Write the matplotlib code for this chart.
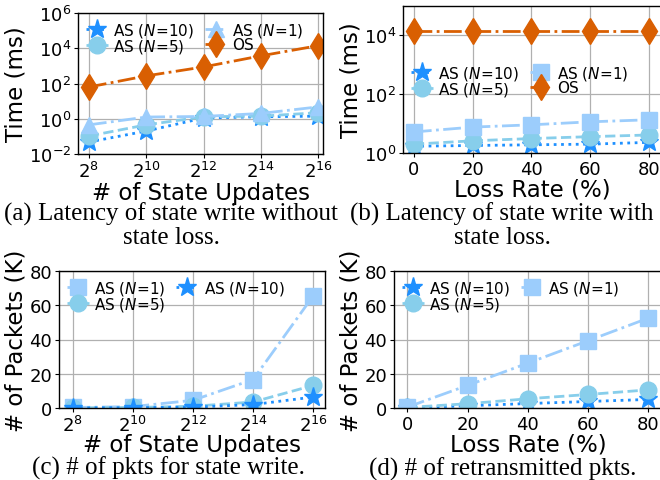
import matplotlib
matplotlib.use("Agg")
import matplotlib.pyplot as plt

plt.rcParams['font.family'] = ['DejaVu Sans']
plt.rcParams['mathtext.fontset'] = 'dejavusans'

# ---- data ----
updates = [2**8, 2**10, 2**12, 2**14, 2**16]
update_labels = [r'$2^{8}$', r'$2^{10}$', r'$2^{12}$', r'$2^{14}$', r'$2^{16}$']
loss = [0, 20, 40, 60, 80]

# (a) latency without state loss (ms)
a_n10 = [0.048, 0.2, 1.1, 1.3, 1.4]
a_n5 = [0.105, 0.45, 1.3, 1.4, 2.2]
a_n1 = [0.45, 1.25, 1.35, 2.0, 4.7]
a_os = [63, 270, 870, 3700, 14000]

# (b) latency with state loss (ms)
b_n10 = [1.7, 1.8, 1.9, 2.0, 2.3]
b_n5 = [2.0, 2.6, 3.1, 3.6, 4.1]
b_n1 = [5.2, 7.6, 9.1, 11.5, 13.5]
b_os = [14000, 14000, 14000, 14000, 14000]

# (c) packets for state write (K)
c_n1 = [0.3, 0.8, 4.5, 16.6, 65.5]
c_n5 = [0.1, 0.3, 1.0, 3.5, 13.2]
c_n10 = [0.05, 0.2, 0.5, 2.0, 6.4]

# (d) retransmitted packets (K)
d_n1 = [0.5, 13.2, 26.2, 39.3, 52.5]
d_n5 = [0.3, 2.5, 5.4, 7.9, 10.6]
d_n10 = [0.1, 1.3, 2.6, 3.8, 5.0]

C10 = '#1e90ff'
C5 = '#87ceeb'
C1 = '#9ccdfc'
COS = '#d95f02'

fig = plt.figure(figsize=(6.6, 4.81), dpi=100)

def px_axes(l, r, t, b):
    W, H = 660, 481
    return fig.add_axes([l / W, 1 - b / H, (r - l) / W, (b - t) / H])

TICK = 13
LAB = 16.5

def style(ax):
    ax.grid(True, color='#b0b0b0', linewidth=0.9)
    ax.set_axisbelow(True)
    for s in ax.spines.values():
        s.set_color('black')
        s.set_linewidth(1.0)
    ax.tick_params(labelsize=TICK, length=3, width=0.8, pad=2)

ms = 12
lw = 2.0
leg_kw = dict(frameon=False, fontsize=11, handlelength=1.45, handletextpad=0.35,
              columnspacing=0.7, labelspacing=-0.1, borderpad=0.3,
              borderaxespad=0.2, ncol=2)

# ---- (a) ----
ax = px_axes(78, 323, 14, 155)
ax.plot(updates, a_n10, ':', color=C10, marker='*', ms=ms + 2, lw=lw, label=r'AS ($N$=10)')
ax.plot(updates, a_n5, '--', color=C5, marker='o', ms=ms, lw=lw, label=r'AS ($N$=5)')
ax.plot(updates, a_n1, '-.', color=C1, marker='^', ms=ms, lw=lw, label=r'AS ($N$=1)')
ax.plot(updates, a_os, '-.', color=COS, marker='d', ms=ms + 1, lw=lw, label='OS')
ax.set_xscale('log', base=2)
ax.set_yscale('log')
ax.set_xlim(2**7.62, 2**16.17)
ax.set_ylim(1e-2, 1e6)
ax.set_xticks(updates)
ax.set_xticklabels(update_labels)
ax.set_yticks([1e-2, 1e0, 1e2, 1e4, 1e6])
ax.minorticks_off()
ax.set_ylabel('Time (ms)', fontsize=LAB, labelpad=1)
ax.set_xlabel('# of State Updates', fontsize=LAB, labelpad=0)
style(ax)
ax.legend(loc='upper left', **leg_kw)

# ---- (b) ----
ax = px_axes(403, 662, 7, 154)
ax.plot(loss, b_n10, ':', color=C10, marker='*', ms=ms + 2, lw=lw, label=r'AS ($N$=10)')
ax.plot(loss, b_n5, '--', color=C5, marker='o', ms=ms, lw=lw, label=r'AS ($N$=5)')
ax.plot(loss, b_n1, '-.', color=C1, marker='s', ms=ms - 1, lw=lw, label=r'AS ($N$=1)')
ax.plot(loss, b_os, '-.', color=COS, marker='d', ms=ms + 1, lw=lw, label='OS')
ax.set_yscale('log')
ax.set_xlim(-3.7, 84.4)
ax.set_ylim(1e0, 1e5)
ax.set_xticks(loss)
ax.set_yticks([1e0, 1e2, 1e4])
ax.minorticks_off()
ax.set_ylabel('Time (ms)', fontsize=LAB, labelpad=1)
ax.set_xlabel('Loss Rate (%)', fontsize=LAB, labelpad=0)
style(ax)
ax.legend(loc='center left', bbox_to_anchor=(0.0, 0.49), **leg_kw)

# ---- (c) ----
ax = px_axes(59, 325, 272, 409)
ax.plot(updates, c_n1, '-.', color=C1, marker='s', ms=ms - 1, lw=lw, label=r'AS ($N$=1)')
ax.plot(updates, c_n5, '--', color=C5, marker='o', ms=ms, lw=lw, label=r'AS ($N$=5)')
ax.plot(updates, c_n10, ':', color=C10, marker='*', ms=ms + 2, lw=lw, label=r'AS ($N$=10)')
ax.set_xscale('log', base=2)
ax.set_xlim(2**7.55, 2**16.39)
ax.set_ylim(0, 80)
ax.set_xticks(updates)
ax.set_xticklabels(update_labels)
ax.set_yticks([0, 20, 40, 60, 80])
ax.minorticks_off()
ax.set_ylabel('# of Packets (K)', fontsize=LAB, labelpad=1)
ax.set_xlabel('# of State Updates', fontsize=LAB, labelpad=-1.5)
style(ax)
ax.legend(loc='upper left', **leg_kw)

# ---- (d) ----
ax = px_axes(394, 662, 272, 409)
ax.plot(loss, d_n10, ':', color=C10, marker='*', ms=ms + 2, lw=lw, label=r'AS ($N$=10)')
ax.plot(loss, d_n5, '--', color=C5, marker='o', ms=ms, lw=lw, label=r'AS ($N$=5)')
ax.plot(loss, d_n1, '-.', color=C1, marker='s', ms=ms - 1, lw=lw, label=r'AS ($N$=1)')
ax.set_xlim(-4.4, 84.5)
ax.set_ylim(0, 80)
ax.set_xticks(loss)
ax.set_yticks([0, 20, 40, 60, 80])
ax.set_ylabel('# of Packets (K)', fontsize=LAB, labelpad=1)
ax.set_xlabel('Loss Rate (%)', fontsize=LAB, labelpad=0)
style(ax)
ax.legend(loc='upper left', **leg_kw)

# ---- captions ----
cap_kw = dict(fontsize=18, family='Liberation Serif', ha='center', va='center', linespacing=1.05)
fig.text(171 / 660, 1 - 226 / 481, '(a) Latency of state write without\nstate loss.', **cap_kw)
fig.text(502 / 660, 1 - 226 / 481, '(b) Latency of state write with\nstate loss.', **cap_kw)
fig.text(168 / 660, 1 - 468 / 481, '(c) # of pkts for state write.', **cap_kw)
fig.text(503 / 660, 1 - 469 / 481, '(d) # of retransmitted pkts.', **cap_kw)

fig.savefig('out.png', dpi=100)
